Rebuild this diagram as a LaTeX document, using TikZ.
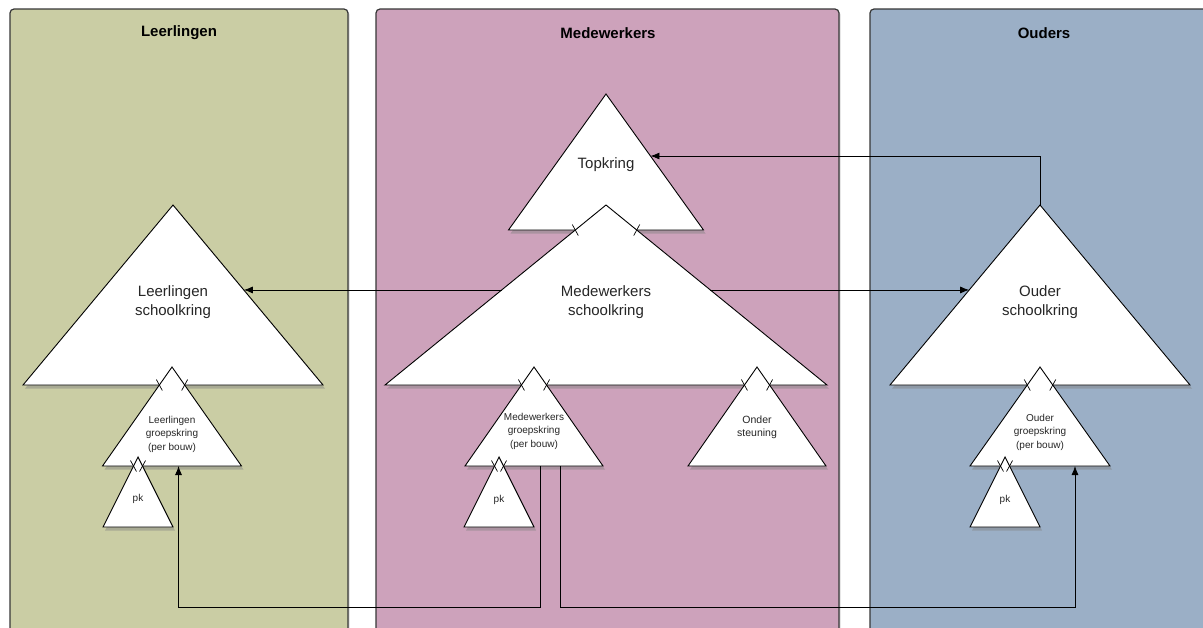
\documentclass[tikz,border=0pt]{standalone}
\usepackage{fontspec}
\setmainfont{Liberation Sans}
\usetikzlibrary{calc,shadows,arrows.meta}
\definecolor{leerling}{RGB}{202,205,164}
\definecolor{medewerker}{RGB}{205,162,187}
\definecolor{ouder}{RGB}{155,175,198}
\definecolor{rand}{RGB}{55,55,55}

\tikzset{
  vak/.style={draw=rand, line width=1.2pt, rounded corners=4pt,
    drop shadow={opacity=.3, shadow xshift=1.5pt, shadow yshift=-1.5pt}},
  kring/.style={draw=black, fill=white, line width=0.9pt,
    drop shadow={opacity=.45, shadow xshift=2pt, shadow yshift=-3.5pt}},
  pijl/.style={-{Latex[length=9pt,width=7pt]}, line width=0.8pt},
  tik/.style={line width=0.7pt},
  titel/.style={inner sep=0pt, font=\bfseries\fontsize{15}{18}\selectfont},
  groot/.style={inner sep=0pt, align=center, text=black!85, font=\fontsize{15}{19}\selectfont},
  klein/.style={inner sep=0pt, align=center, text=black!85, font=\fontsize{10}{13.5}\selectfont},
}

% driehoek: naam, top x, top y, halve breedte, hoogte
\newcommand{\driehoek}[5]{%
  \coordinate (#1-top) at (#2,#3);
  \coordinate (#1-l) at ($(#2,#3)+(-#4,#5)$);
  \coordinate (#1-r) at ($(#2,#3)+(#4,#5)$);
  \draw[kring] (#1-top) -- (#1-r) -- (#1-l) -- cycle;
}
% kruisje waar een kind de basis van de ouder snijdt
\newcommand{\kruis}[2]{%
  \draw[tik] ($(#1-top)!#2!(#1-l)+(-3,-5.5)$) -- ++(6,11);
  \draw[tik] ($(#1-top)!#2!(#1-r)+(3,-5.5)$) -- ++(-6,11);
}

\begin{document}
\begin{tikzpicture}[x=1pt,y=-1pt]
\useasboundingbox (0,0) rectangle (1203,627);
\clip (0,0) rectangle (1203,627);

% kolommen
\draw[vak, fill=leerling] (10,9) rectangle (348,660);
\draw[vak, fill=medewerker] (376,9) rectangle (839,660);
\draw[vak, fill=ouder] (870,9) rectangle (1240,660);

\node[titel] (t-leer) at (179,33) {Leerlingen};
\node[titel] (t-mede) at (608,33) {Medewerkers};
\node[titel] (t-oud) at (1044,33) {Ouders};

% kringen
\driehoek{tk}{606}{94}{97.5}{136}
\driehoek{ms}{606}{205}{221}{180}
\driehoek{ls}{173}{205}{150}{180}
\driehoek{os}{1040}{205}{150}{180}

\driehoek{lg}{172}{367}{69.5}{99}
\driehoek{mg}{534}{367}{69}{99}
\driehoek{st}{757}{367}{69}{99}
\driehoek{og}{1040}{367}{70}{99}

\driehoek{lp}{138}{457}{35}{70}
\driehoek{mp}{499}{457}{35}{70}
\driehoek{op}{1005}{457}{35}{70}

\kruis{ms}{.139}
\kruis{lg}{.182}
\kruis{mg}{.182}
\kruis{st}{.182}
\kruis{og}{.182}
\kruis{lp}{.129}
\kruis{mp}{.129}
\kruis{op}{.129}

% teksten
\node[groot] (tk-tekst) at (606,165) {Topkring};
\node[groot] (ls-tekst) at (173,302.5) {Leerlingen\\schoolkring};
\node[groot] (ms-tekst) at (606,302.5) {Medewerkers\\schoolkring};
\node[groot] (os-tekst) at (1040,302.5) {Ouder\\schoolkring};
\node[klein] (lg-tekst) at (172,434) {Leerlingen\\groepskring\\(per bouw)};
\node[klein] (mg-tekst) at (534,431) {Medewerkers\\groepskring\\(per bouw)};
\node[klein, font=\fontsize{10.5}{13}\selectfont] (st-tekst) at (757,427) {Onder\\steuning};
\node[klein] (og-tekst) at (1040,432) {Ouder\\groepskring\\(per bouw)};
\node[klein] (lp-tekst) at (138,499) {pk};
\node[klein] (mp-tekst) at (499,500) {pk};
\node[klein] (op-tekst) at (1005,500) {pk};

% verbindingen
\coordinate (onder) at (0,607);
\coordinate (mg-a) at ($(mg-l)!.543!(mg-r)$);
\coordinate (mg-b) at ($(mg-l)!.688!(mg-r)$);
\coordinate (lg-a) at ($(lg-l)!.547!(lg-r)$);
\coordinate (og-a) at ($(og-l)!.75!(og-r)$);

\draw[pijl] ($(ms-top)!.472!(ms-l)$) -- ($(ls-top)!.472!(ls-r)$);
\draw[pijl] ($(ms-top)!.472!(ms-r)$) -- ($(os-top)!.472!(os-l)$);
\draw[pijl] (os-top) |- ($(tk-top)!.456!(tk-r)$);
\draw[pijl] (mg-a) -- (mg-a |- onder) -| (lg-a);
\draw[pijl] (mg-b) -- (mg-b |- onder) -| (og-a);
\end{tikzpicture}
\end{document}
